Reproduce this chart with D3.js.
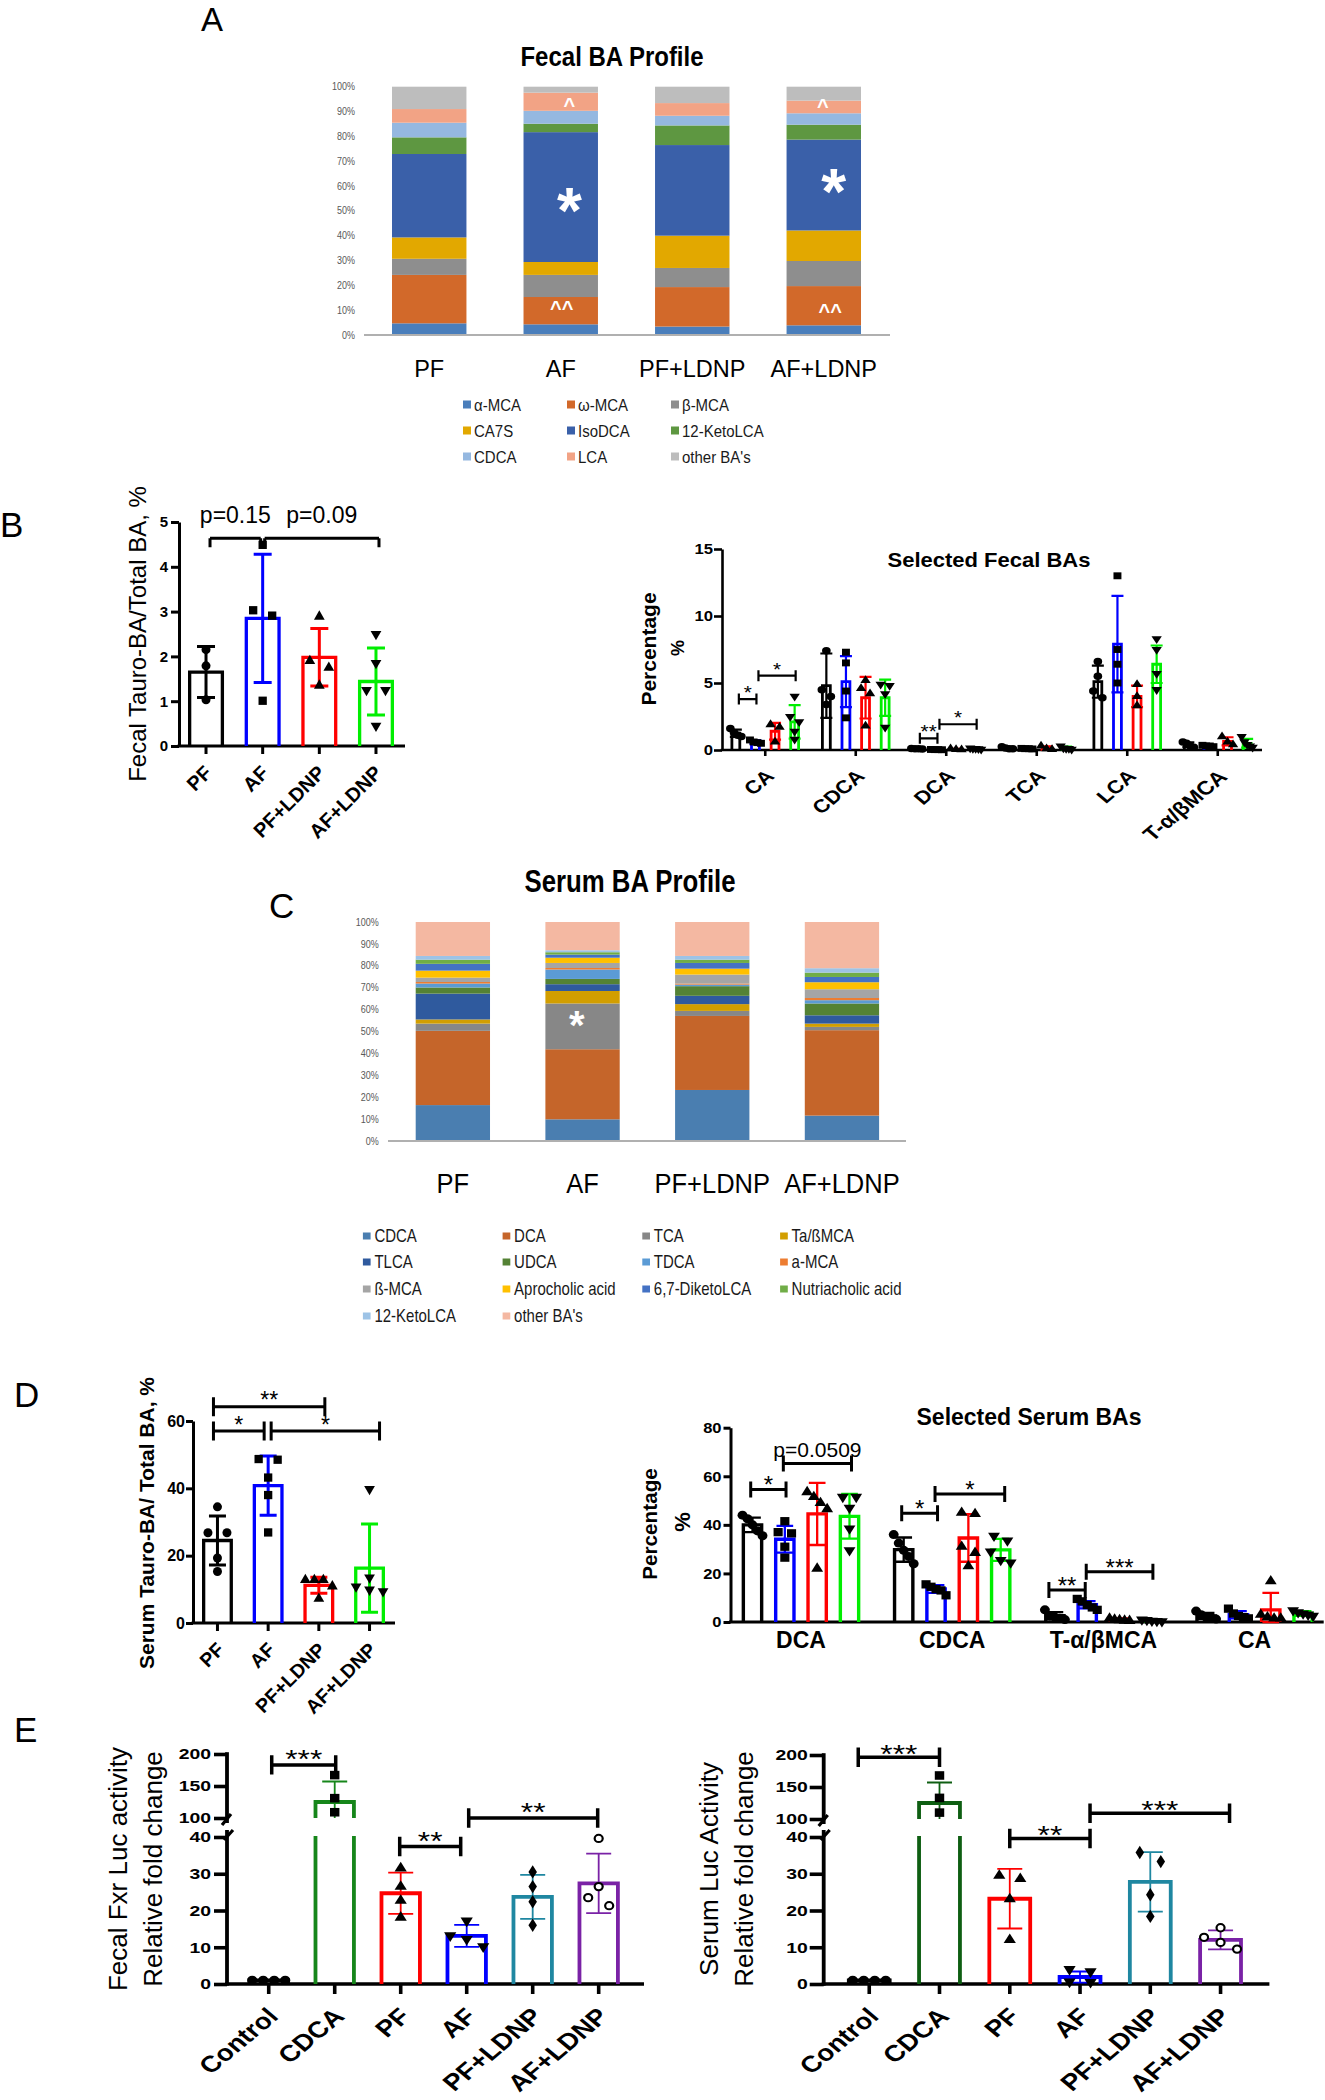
<!DOCTYPE html>
<html><head><meta charset="utf-8">
<script src="https://cdn.jsdelivr.net/npm/d3@7"></script>
<style>body{margin:0;background:#fff}svg{display:block}</style>
</head><body><svg id="fig" width="1325" height="2100"></svg>
<script>
// ================= DATA =================
const groups4 = ['PF','AF','PF+LDNP','AF+LDNP'];
const cats6 = ['Control','CDCA','PF','AF','PF+LDNP','AF+LDNP'];

// Panel A - Fecal BA profile (% of total, bottom -> top)
const fecalBAs = ['α-MCA','ω-MCA','β-MCA','CA7S','IsoDCA','12-KetoLCA','CDCA','LCA',"other BA's"];
const fecalProfilePF  = [4.7, 19.5, 6.5, 8.6, 33.6, 6.7, 5.9, 5.5, 9.0];
const fecalProfileAF  = [4.3, 11.0, 8.9, 5.2, 52.3, 3.4, 5.2, 7.3, 2.4];
const fecalProfilePFL = [3.4, 15.9, 7.7, 13.0, 36.5, 7.9, 3.9, 5.1, 6.6];
const fecalProfileAFL = [3.9, 15.8, 10.1, 12.3, 36.6, 6.0, 4.6, 5.1, 5.6];
const pctTicks = [0,10,20,30,40,50,60,70,80,90,100];

// Panel B left - Fecal Tauro-BA / Total BA
const fecalTauroMean = [1.65, 2.85, 1.98, 1.44];
const fecalTauroSD   = [0.57, 1.43, 0.64, 0.75];
const fecalTauroPts  = [[2.15,1.79,1.03],[4.49,3.03,2.91,1.01],[2.89,1.9,1.75,1.35],[2.5,1.85,1.25,1.25,0.45]];
const fecalTauroTicks = [0,1,2,3,4,5];

// Panel B right - Selected fecal BAs
const fecalSelGroups = ['CA','CDCA','DCA','TCA','LCA','T-α/βMCA'];
const fecalSelMeanPF  = [1.25, 4.8, 0.10, 0.15, 5.1, 0.4];
const fecalSelSdPF    = [0.27, 2.4, 0.02, 0.07, 1.2, 0.18];
const fecalSelPtsPF   = [[1.6,1.3,1.1,1.0],[7.4,4.5,4.0,3.4],[0.12,0.1,0.09,0.08],[0.25,0.15,0.1,0.1],[6.6,5.5,4.4,3.9],[0.6,0.5,0.3,0.2]];
const fecalSelMeanAF  = [0.6, 5.1, 0.03, 0.1, 7.9, 0.3];
const fecalSelSdAF    = [0.12, 1.9, 0.01, 0.02, 3.6, 0.05];
const fecalSelPtsAF   = [[0.75,0.6,0.55,0.5],[7.3,6.5,4.4,2.4],[0.04,0.03,0.03,0.02],[0.12,0.1,0.1,0.08],[13.0,7.5,6.4,5.0],[0.35,0.3,0.3,0.25]];
const fecalSelMeanPFL = [1.4, 3.9, 0.05, 0.15, 4.0, 0.65];
const fecalSelSdPFL   = [0.62, 1.55, 0.03, 0.13, 0.8, 0.3];
const fecalSelPtsPFL  = [[1.9,1.7,0.6],[5.2,4.6,4.2,1.8],[0.1,0.04,0.02],[0.3,0.1,0.05],[4.9,4.0,3.3],[1.0,0.6,0.4]];
const fecalSelMeanAFL = [2.1, 3.9, 0.1, 0.15, 6.4, 0.5];
const fecalSelSdAFL   = [1.25, 1.35, 0.04, 0.1, 1.4, 0.33];
const fecalSelPtsAFL  = [[4.0,2.5,2.1,1.4,0.8],[4.9,4.8,4.2,1.7],[0.15,0.1,0.1,0.08,0.05],[0.3,0.15,0.1,0.1,0.05],[8.3,7.5,5.7,4.5],[1.0,0.6,0.4,0.3,0.2]];
const fecalSelTicks = [0,5,10,15];

// Panel C - Serum BA profile
const serumBAs = ['CDCA','DCA','TCA','Ta/ßMCA','TLCA','UDCA','TDCA','a-MCA','ß-MCA','Aprocholic acid','6,7-DiketoLCA','Nutriacholic acid','12-KetoLCA',"other BA's"];
const serumProfilePF  = [16.4, 33.9, 3.3, 1.9, 11.8, 2.8, 1.8, 0.7, 2.0, 3.2, 3.1, 1.9, 1.7, 15.5];
const serumProfileAF  = [9.9, 32.0, 20.9, 5.7, 3.1, 2.4, 4.3, 0.7, 2.3, 2.4, 1.4, 1.1, 0.9, 12.9];
const serumProfilePFL = [23.3, 33.8, 2.3, 3.1, 3.8, 4.4, 0.7, 0.5, 4.1, 2.7, 2.6, 1.5, 1.7, 15.5];
const serumProfileAFL = [11.6, 39.0, 1.5, 1.5, 3.8, 5.4, 1.5, 1.0, 4.0, 3.2, 2.4, 2.0, 2.0, 21.1];

// Panel D left - Serum Tauro-BA / Total BA
const serumTauroMean = [24.5, 40.8, 11.2, 16.3];
const serumTauroSD   = [7.3, 8.8, 2.4, 13.1];
const serumTauroPts  = [[34.5,26.8,26.8,19.3,15.3],[48.7,48.5,43.2,38.0,26.9],[12.8,12.8,12.8,10.9,7.2],[39.8,13.5,10.8,9.4,9.9]];
const serumTauroTicks = [0,20,40,60];

// Panel D right - Selected serum BAs
const serumSelGroups = ['DCA','CDCA','T-α/βMCA','CA'];
const serumSelMeanPF  = [40.0, 29.8, 2.6, 2.5];
const serumSelSdPF    = [3.0, 5.0, 1.5, 1.2];
const serumSelPtsPF   = [[44,42.5,40,37.5,35.5],[36,32.5,29.5,27,24],[5,2.5,2,1.5,1],[4.5,3,2,1.8,1.2]];
const serumSelMeanAF  = [34.1, 13.6, 7.1, 3.0];
const serumSelSdAF    = [5.5, 1.6, 1.5, 1.5];
const serumSelPtsAF   = [[41.5,37,36.5,31,26.5],[15.5,14.5,13.5,13,11],[9.5,8.5,7,6,5],[5.5,3.5,2.5,2,1.5]];
const serumSelMeanPFL = [44.5, 34.6, 1.0, 5.0];
const serumSelSdPFL   = [12.8, 9.8, 0.5, 7.0];
const serumSelPtsPFL  = [[53.5,51.5,49,46.5,22],[45,44.5,31,28.5,23],[1.5,1,0.8,0.6,0.5],[16.8,3,2,1.5,1.5]];
const serumSelMeanAFL = [43.5, 29.7, 0.6, 3.5];
const serumSelSdAFL   = [9.2, 4.5, 0.3, 1.0];
const serumSelPtsAFL  = [[51.5,51.5,47,38.5,29.5],[35.5,33.5,29,25.5,24.5],[1,0.8,0.5,0.4,0.3],[4.8,4,3.5,3,2.5]];
const serumSelTicks = [0,20,40,60,80];

// Panel E - FXR luciferase activity (relative fold change)
const fxrFecalMean = [1, 125, 24.7, 13.1, 23.7, 27.4];
const fxrFecalSD   = [0.1, 32, 5.6, 3.0, 6.0, 8.1];
const fxrFecalPts  = [[1,1,1,1],[167,131,109,90],[31.5,26.5,22.7,18.1],[17.2,13.2,12.2,10.2],[30.5,26.5,22.4,16],[39.6,26.5,23.5,21.3]];
const fxrSerumMean = [1, 125, 23.2, 1.9, 27.8, 12.0];
const fxrSerumSD   = [0.1, 32, 8.1, 1.5, 8.1, 2.6];
const fxrSerumPts  = [[1,1,1,1],[168,133,110,89],[29.5,28.6,23.1,12],[4.0,3.4,0.6,0.5],[35.8,33.3,24.3,18.4],[15.3,12.7,11.3,9.5]];
const fxrLowTicks = [0,10,20,30,40];
const fxrHighTicks = [100,150,200];

// Significance annotations (value units)
const fecalTauroBrackets = [{from:'PF',to:'AF',y:4.64,label:'p=0.15'},{from:'AF',to:'AF+LDNP',y:4.64,label:'p=0.09'}];
const fecalSelBrackets = [{group:'CA',from:'PF',to:'AF',y:3.8,label:'*'},{group:'CA',from:'AF',to:'AF+LDNP',y:5.55,label:'*'},{group:'DCA',from:'PF',to:'AF',y:0.87,label:'**'},{group:'DCA',from:'AF',to:'AF+LDNP',y:1.92,label:'*'}];
const serumTauroBrackets = [{from:'PF',to:'PF+LDNP',y:64.2,label:'**'},{from:'PF',to:'AF',y:57,label:'*'},{from:'AF',to:'AF+LDNP',y:57,label:'*'}];
const serumSelBrackets = [{group:'DCA',from:'PF',to:'AF',y:54.6,label:'*'},{group:'DCA',from:'AF',to:'AF+LDNP',y:65.3,label:'p=0.0509'},{group:'CDCA',from:'PF',to:'AF',y:44.8,label:'*'},{group:'CDCA',from:'AF',to:'AF+LDNP',y:52.7,label:'*'},{group:'T-α/βMCA',from:'PF',to:'AF',y:13.2,label:'**'},{group:'T-α/βMCA',from:'AF',to:'AF+LDNP',y:20.7,label:'***'}];
const fxrFecalBrackets = [{from:'Control',to:'CDCA',y:183,label:'***'},{from:'PF',to:'AF',y:37.4,label:'**'},{from:'AF',to:'AF+LDNP',y:100,label:'**'}];
const fxrSerumBrackets = [{from:'Control',to:'CDCA',y:196.4,label:'***'},{from:'PF',to:'AF',y:39.6,label:'**'},{from:'AF',to:'AF+LDNP',y:108.9,label:'***'}];

// ================= STYLE =================
const FONT = '"Liberation Sans", Arial, Helvetica, sans-serif';
const fecalBAColors = ['#4a7ebb','#d2692a','#8e8e8e','#e2a800','#3a60a9','#5e9741','#95b8e0','#f2a385','#bdbdbd'];
const serumBAColors = ['#4a7eb0','#c5652a','#878787','#d29e00','#2f5a9e','#548235','#5b9bd5','#ed7d31','#a5a5a5','#ffc000','#4472c4','#70ad47','#9dc3e6','#f4b8a2'];
const grpColors = ['#000000','#0000ff','#ff0000','#00ee00'];
const grpShapes = ['circle','square','triUp','triDown'];
const eColorsL = ['#000000','#16861a','#ff0000','#0000ff','#1f87a1','#7a22a6'];
const eColorsR = ['#000000','#0e5e12','#ff0000','#0000ff','#1f87a1','#7a22a6'];
const eShapes = ['circle','square','triUp','triDown','diamond','openCircle'];

// ================= HELPERS =================
const svg = d3.select('#fig');
svg.append('rect').attr('width',1325).attr('height',2100).attr('fill','#fff');

function txt(g, x, y, s, o={}) {
  let tr = `translate(${x},${y})`;
  if (o.pre) tr += ` scale(${o.pre[0]},${o.pre[1]})`;
  if (o.rot) tr += ` rotate(${o.rot})`;
  if (o.sx || o.sy) tr += ` scale(${o.sx||1},${o.sy||1})`;
  return g.append('text').attr('transform', tr)
    .attr('font-family', FONT).attr('font-size', o.size||14).attr('font-weight', o.weight||'normal')
    .attr('text-anchor', o.anchor||'start').attr('fill', o.fill||'#000').text(s);
}
function marker(g, shape, x, y, w, sx) {
  let type=d3.symbolCircle, area=Math.PI*w*w/4, rot=0, fill='#000', stroke='none', sw=0;
  if (shape==='openCircle') { area=Math.PI*(w-2)*(w-2)/4; fill='#fff'; stroke='#000'; sw=2; }
  else if (shape==='square') { type=d3.symbolSquare; area=w*w*0.85; }
  else if (shape==='triUp') { type=d3.symbolTriangle; area=w*w*0.62; }
  else if (shape==='triDown') { type=d3.symbolTriangle; area=w*w*0.62; rot=180; }
  else if (shape==='diamond') { type=d3.symbolDiamond; area=w*w*0.6; }
  g.append('path').attr('d', d3.symbol(type, area)()).attr('transform', `translate(${x},${y}) scale(${sx||1},1) rotate(${rot})`)
    .attr('fill', fill).attr('stroke', stroke).attr('stroke-width', sw);
}
// horizontal spread of overlapping points (deterministic)
function swarm(vals, yf, mW, pair, maxW) {
  const idx = vals.map((v,i)=>i).filter(i=>yf(vals[i])!==null).sort((a,b)=>vals[b]-vals[a]);
  const off = vals.map(()=>0);
  const clusters=[]; let cur=[];
  idx.forEach(i=>{ if (cur.length && Math.abs(yf(vals[i]) - yf(vals[cur[cur.length-1]])) >= mW) { clusters.push(cur); cur=[]; } cur.push(i); });
  if (cur.length) clusters.push(cur);
  clusters.forEach(c=>{ const k=c.length; if (k<2) return; const d=Math.min(pair, maxW/(k-1)); c.forEach((i,j)=>off[i]=(j-(k-1)/2)*d); });
  return off;
}
function gpBar(g, o) {
  const yf=o.y, half=(o.w-o.barSW)/2, x0=o.cx-half, x1=o.cx+half, yb=yf(0);
  const bar = g.append('path').attr('fill','none').attr('stroke',o.color).attr('stroke-width',o.barSW).attr('stroke-linejoin','miter');
  if (o.brk && o.mean > o.brk[1]) {
    const yl = yf(o.brk[0]) - 1, yu = yf(o.brk[1]), ym = yf(o.mean);
    bar.attr('d', `M${x0},${yb}V${yl}M${x1},${yb}V${yl}M${x0},${yu}V${ym}H${x1}V${yu}`);
  } else {
    bar.attr('d', `M${x0},${yb}V${yf(o.mean)}H${x1}V${yb}`);
  }
  const hi=o.mean+o.sd, lo=Math.max(0,o.mean-o.sd);
  let yHi=yf(hi), yLo=yf(lo), lowCap=true;
  if (yLo===null) { yLo=yf(o.brk[1]); lowCap=false; }
  const cw=o.capW/2;
  let d=`M${o.cx},${yHi}V${yLo}M${o.cx-cw},${yHi}H${o.cx+cw}`;
  if (lowCap) d+=`M${o.cx-cw},${yLo}H${o.cx+cw}`;
  g.append('path').attr('d',d).attr('fill','none').attr('stroke',o.errColor||o.color).attr('stroke-width',o.errSW);
  const off = swarm(o.pts, yf, o.mW, o.pair, o.maxW);
  o.pts.forEach((v,i)=>{ const yy=yf(v); if (yy===null) return; marker(g, o.shape, o.cx+off[i], yy, o.mW, o.mSx); });
}
function bracket(g, x1, x2, y, o) {
  const up=o.capUp, dn=o.capDown;
  g.append('path').attr('d',`M${x1},${y-up}V${y+dn}M${x1},${y}H${x2}M${x2},${y-up}V${y+dn}`)
    .attr('fill','none').attr('stroke','#000').attr('stroke-width',o.sw);
  const mx=(x1+x2)/2;
  if (/^\*+$/.test(o.label)) txt(g, mx, y - o.dy + 0.5*o.size, o.label, {size:o.size, anchor:'middle', sx:o.ssx||1});
  else txt(g, mx, y - o.pdy, o.label, {size:o.psize, anchor:'middle'});
}
function styleAxis(sel, sw, fs, sx) {
  sel.attr('font-family', FONT).attr('font-size', fs).attr('font-weight','bold');
  sel.select('.domain').attr('stroke-width', sw).attr('stroke','#000');
  sel.selectAll('.tick line').attr('stroke-width', sw).attr('stroke','#000');
  sel.selectAll('.tick text').attr('fill','#000').each(function(){
    if (!sx) return; const t=d3.select(this); const x=+t.attr('x');
    t.attr('transform', `translate(${x},0) scale(${sx},1) translate(${-x},0)`);
  });
}
function rotLabel(g, tx, ty, s, size, sx) {
  sx = sx||1; const c = 0.72*size;
  txt(g, tx + 0.707*c*sx, ty + 0.707*c, s, {size, weight:'bold', anchor:'end', rot:-45, pre:[sx,1]});
}
function hline(g, x1, x2, y, sw, color) {
  g.append('line').attr('x1',x1).attr('x2',x2).attr('y1',y).attr('y2',y).attr('stroke',color||'#000').attr('stroke-width',sw);
}
function vline(g, x, y1, y2, sw, color) {
  g.append('line').attr('x1',x).attr('x2',x).attr('y1',y1).attr('y2',y2).attr('stroke',color||'#000').attr('stroke-width',sw);
}
const intFmt = d3.format('d');

// ================= PANEL LETTERS =================
txt(svg, 201, 31, 'A', {size:33});
txt(svg, 0, 537, 'B', {size:35});
txt(svg, 269, 918, 'C', {size:35});
txt(svg, 14, 1407, 'D', {size:35});
txt(svg, 14, 1742, 'E', {size:35});

// ================= PANEL A =================
(function(){
  const g = svg.append('g');
  const arrs = [fecalProfilePF, fecalProfileAF, fecalProfilePFL, fecalProfileAFL];
  const rows = groups4.map((grp,i)=>{ const r={group:grp}; fecalBAs.forEach((k,j)=>r[k]=arrs[i][j]); return r; });
  const stack = d3.stack().keys(fecalBAs)(rows);
  const y = d3.scaleLinear().domain([0,100]).range([335,86.7]);
  const x = d3.scaleBand().domain(groups4).range([392,861]).paddingInner(0.434);
  const cx = grp=>x(grp)+x.bandwidth()/2;
  stack.forEach((layer,j)=>{
    g.selectAll(null).data(layer).enter().append('rect')
      .attr('x', d=>x(d.data.group)).attr('width', x.bandwidth())
      .attr('y', d=>y(d[1])).attr('height', d=>y(d[0])-y(d[1])).attr('fill', fecalBAColors[j]);
  });
  hline(g, 364, 890, 335, 2, '#b0b0b0');
  pctTicks.forEach(t=>txt(g, 355, y(t)+3.6, t+'%', {size:9, anchor:'end', fill:'#595959', sy:1.15}));
  txt(g, 612, 66, 'Fecal BA Profile', {size:24, weight:'bold', anchor:'middle', sy:1.12});
  groups4.forEach(grp=>txt(g, cx(grp), 377, grp, {size:23.5, anchor:'middle', sy:1.05}));
  const mid = (grp,k)=>{ const L=stack[fecalBAs.indexOf(k)].find(d=>d.data.group===grp); return y((L[0]+L[1])/2); };
  const ann = [
    {grp:'AF', seg:'IsoDCA', s:'*', dx:8.7, dy:3.6, size:64},
    {grp:'AF+LDNP', seg:'IsoDCA', s:'*', dx:10, dy:-3.3, size:64},
    {grp:'AF', seg:'LCA', s:'^', dx:8.7, dy:0, size:20},
    {grp:'AF+LDNP', seg:'LCA', s:'^', dx:-1, dy:-4.4, size:20},
    {grp:'AF', seg:'ω-MCA', s:'^^', dx:1, dy:-5.7, size:20},
    {grp:'AF+LDNP', seg:'ω-MCA', s:'^^', dx:6.5, dy:1.3, size:20}
  ];
  ann.forEach(a=>txt(g, cx(a.grp)+a.dx, mid(a.grp,a.seg)+a.dy+(a.s==='*'?0.5*a.size:10.5), a.s, {size:a.size, weight:'bold', anchor:'middle', fill:'#fff'}));
  const lx=[474,578,682], ly=[411,437,463];
  fecalBAs.forEach((k,i)=>{
    const cxl=lx[i%3], cyl=ly[Math.floor(i/3)];
    g.append('rect').attr('x',cxl-11).attr('y',cyl-10.5).attr('width',8).attr('height',8).attr('fill',fecalBAColors[i]);
    txt(g, cxl, cyl, k, {size:15, fill:'#1a1a1a', sy:1.08});
  });
})();

// ================= PANEL B left =================
(function(){
  const g = svg.append('g');
  const y = d3.scaleLinear().domain([0,5]).range([746,522]);
  const x = d3.scaleBand().domain(groups4).range([188,394]).paddingInner(0.364);
  const cx = k=>x(k)+x.bandwidth()/2;
  g.append('g').attr('transform','translate(179,0)')
    .call(d3.axisLeft(y).tickValues(fecalTauroTicks).tickFormat(intFmt).tickSize(8).tickSizeOuter(0).tickPadding(3)).call(styleAxis,3,15);
  hline(g, 177.5, 405, 746, 3);
  groups4.forEach((k,i)=>{
    vline(g, cx(k), 746, 754, 3);
    gpBar(g, {cx:cx(k), w:x.bandwidth(), y, mean:fecalTauroMean[i], sd:fecalTauroSD[i], pts:fecalTauroPts[i],
      color:grpColors[i], shape:grpShapes[i], barSW:3.3, errSW:3, capW:18, mW:9, pair:19, maxW:28});
    rotLabel(g, cx(k)-3, 746+18, k, 20);
  });
  fecalTauroBrackets.forEach(b=>{
    bracket(g, cx(b.from)+(b.from==='AF'?2:4), cx(b.to)-(b.to==='AF'?2:-3), y(b.y), {capUp:0, capDown:9, sw:3, label:b.label, psize:23, pdy:15});
  });
  txt(g, 146, 634, 'Fecal Tauro-BA/Total BA, %', {size:24, anchor:'middle', rot:-90});
})();

// ================= PANEL B right =================
(function(){
  const g = svg.append('g');
  const y = d3.scaleLinear().domain([0,15]).range([750,549]);
  const xg = d3.scaleBand().domain(fecalSelGroups).range([720,1263]);
  const xi = d3.scalePoint().domain(groups4).range([-29.4,29.4]);
  const gc = k=>xg(k)+xg.bandwidth()/2;
  const means=[fecalSelMeanPF,fecalSelMeanAF,fecalSelMeanPFL,fecalSelMeanAFL];
  const sds=[fecalSelSdPF,fecalSelSdAF,fecalSelSdPFL,fecalSelSdAFL];
  const pts=[fecalSelPtsPF,fecalSelPtsAF,fecalSelPtsPFL,fecalSelPtsAFL];
  g.append('g').attr('transform','translate(722,0)')
    .call(d3.axisLeft(y).tickValues(fecalSelTicks).tickFormat(intFmt).tickSize(8).tickSizeOuter(0).tickPadding(1)).call(styleAxis,2.6,14.5,1.15);
  hline(g, 720.7, 1262, 750, 2.6);
  fecalSelGroups.forEach((grp,j)=>{
    vline(g, gc(grp), 750, 756, 2.6);
    groups4.forEach((k,i)=>{
      gpBar(g, {cx:gc(grp)+xi(k), w:10.7, y, mean:means[i][j], sd:sds[i][j], pts:pts[i][j],
        color:grpColors[i], shape:grpShapes[i], barSW:2.8, errSW:2.2, capW:12, mW:7.5, mSx:1.15, pair:9, maxW:11});
    });
    rotLabel(g, gc(grp)-1, 750+18, grp, grp.length>6 ? 19.5 : 18.5, 1.18);
  });
  fecalSelBrackets.forEach(b=>{
    bracket(g, gc(b.group)+xi(b.from)+3, gc(b.group)+xi(b.to)+1, y(b.y), {capUp:5.5, capDown:5.5, sw:2.2, label:b.label, size:18, dy:9, ssx:1.15});
  });
  txt(g, 989, 567, 'Selected Fecal BAs', {size:20, weight:'bold', anchor:'middle', sx:1.1});
  txt(g, 656, 649, 'Percentage', {size:21, weight:'bold', anchor:'middle', rot:-90});
  txt(g, 684, 648, '%', {size:18, weight:'bold', anchor:'middle', rot:-90});
})();

// ================= PANEL C =================
(function(){
  const g = svg.append('g');
  const arrs = [serumProfilePF, serumProfileAF, serumProfilePFL, serumProfileAFL];
  const rows = groups4.map((grp,i)=>{ const r={group:grp}; serumBAs.forEach((k,j)=>r[k]=arrs[i][j]); return r; });
  const stack = d3.stack().keys(serumBAs)(rows);
  const y = d3.scaleLinear().domain([0,100]).range([1141,922]);
  const x = d3.scaleBand().domain(groups4).range([415.7,879.1]).paddingInner(0.427);
  const cx = grp=>x(grp)+x.bandwidth()/2;
  stack.forEach((layer,j)=>{
    g.selectAll(null).data(layer).enter().append('rect')
      .attr('x', d=>x(d.data.group)).attr('width', x.bandwidth())
      .attr('y', d=>y(d[1])).attr('height', d=>y(d[0])-y(d[1])).attr('fill', serumBAColors[j]);
  });
  hline(g, 388, 906, 1141, 2, '#b0b0b0');
  pctTicks.forEach(t=>txt(g, 378.7, y(t)+3.6, t+'%', {size:9, anchor:'end', fill:'#595959', sy:1.13}));
  txt(g, 630, 892, 'Serum BA Profile', {size:25.8, weight:'bold', anchor:'middle', sy:1.18});
  groups4.forEach(grp=>txt(g, cx(grp), 1193, grp, {size:25.5, anchor:'middle', sy:1.08}));
  const L = stack[serumBAs.indexOf('TCA')].find(d=>d.data.group==='AF');
  txt(g, cx('AF')-5.7, y((L[0]+L[1])/2) - 7.4 + 20, '*', {size:40, weight:'bold', anchor:'middle', fill:'#fff'});
  const lx=[374.4,514.1,653.8,791.6], ly=[1242,1268,1295,1322];
  serumBAs.forEach((k,i)=>{
    const cxl=lx[i%4], cyl=ly[Math.floor(i/4)];
    g.append('rect').attr('x',cxl-11.5).attr('y',cyl-9.5).attr('width',7.7).attr('height',7).attr('fill',serumBAColors[i]);
    txt(g, cxl, cyl, k, {size:15, fill:'#1a1a1a', sy:1.2});
  });
})();

// ================= PANEL D left =================
(function(){
  const g = svg.append('g');
  const y = d3.scaleLinear().domain([0,60]).range([1623,1421]);
  const x = d3.scaleBand().domain(groups4).range([202,385]).paddingInner(0.39);
  const cx = k=>x(k)+x.bandwidth()/2;
  g.append('g').attr('transform','translate(193,0)')
    .call(d3.axisLeft(y).tickValues(serumTauroTicks).tickFormat(intFmt).tickSize(7).tickSizeOuter(0).tickPadding(1)).call(styleAxis,3,16);
  hline(g, 191.5, 395, 1623, 3);
  groups4.forEach((k,i)=>{
    vline(g, cx(k), 1623, 1631, 3);
    gpBar(g, {cx:cx(k), w:x.bandwidth(), y, mean:serumTauroMean[i], sd:serumTauroSD[i], pts:serumTauroPts[i],
      color:grpColors[i], shape:grpShapes[i], barSW:3.3, errSW:3, capW:17, mW:9, pair:19, maxW:27});
    rotLabel(g, cx(k)-2, 1623+18, k, 19.5);
  });
  serumTauroBrackets.forEach(b=>{
    bracket(g, cx(b.from)+(b.from==='AF'?3:-4), cx(b.to)+(b.to==='AF'?-4:(b.to==='AF+LDNP'?10:6)), y(b.y), {capUp:9.5, capDown:9.5, sw:3, label:b.label, size:23, dy:10});
  });
  txt(g, 154, 1523, 'Serum Tauro-BA/ Total BA, %', {size:21, weight:'bold', anchor:'middle', rot:-90});
})();

// ================= PANEL D right =================
(function(){
  const g = svg.append('g');
  const y = d3.scaleLinear().domain([0,80]).range([1622,1427.7]);
  const xg = d3.scaleBand().domain(serumSelGroups).range([725.4,1330.2]);
  const xi = d3.scalePoint().domain(groups4).range([-48.5,48.5]);
  const gc = k=>xg(k)+xg.bandwidth()/2;
  const means=[serumSelMeanPF,serumSelMeanAF,serumSelMeanPFL,serumSelMeanAFL];
  const sds=[serumSelSdPF,serumSelSdAF,serumSelSdPFL,serumSelSdAFL];
  const pts=[serumSelPtsPF,serumSelPtsAF,serumSelPtsPFL,serumSelPtsAFL];
  g.append('g').attr('transform','translate(730.5,0)')
    .call(d3.axisLeft(y).tickValues(serumSelTicks).tickFormat(intFmt).tickSize(7).tickSizeOuter(0).tickPadding(2)).call(styleAxis,3,15,1.1);
  hline(g, 729, 1323.7, 1622, 3);
  serumSelGroups.forEach((grp,j)=>{
    groups4.forEach((k,i)=>{
      gpBar(g, {cx:gc(grp)+xi(k), w:21.7, y, mean:means[i][j], sd:sds[i][j], pts:pts[i][j],
        color:grpColors[i], shape:grpShapes[i], barSW:3.4, errSW:2.3, capW:16.7, mW:9, mSx:1.1, pair:13.4, maxW:20});
    });
    txt(g, gc(grp), 1648, grp, {size:23, weight:'bold', anchor:'middle'});
  });
  const nudge = [[-1.8,1.2],[-1.5,2],[-2,1.5],[-1,4],[-6,-2],[-1,1]];
  serumSelBrackets.forEach((b,k)=>{
    bracket(g, gc(b.group)+xi(b.from)+nudge[k][0], gc(b.group)+xi(b.to)+nudge[k][1], y(b.y), {capUp:8, capDown:8, sw:3, label:b.label, size:24, dy:8, psize:21, pdy:6.6});
  });
  txt(g, 1029, 1425, 'Selected Serum BAs', {size:23, weight:'bold', anchor:'middle'});
  txt(g, 656.5, 1524, 'Percentage', {size:20.7, weight:'bold', anchor:'middle', rot:-90});
  txt(g, 690, 1522, '%', {size:22, weight:'bold', anchor:'middle', rot:-90});
})();

// ================= PANEL E =================
function panelE(o) {
  const g = svg.append('g');
  const yLow = d3.scaleLinear().domain([0,40]).range([1984,1837]);
  const yUp = d3.scaleLinear().domain([100,200]).range([o.up100,o.up100-64]);
  const yf = v => v<=40 ? yLow(v) : (v>=100 ? yUp(v) : null);
  const x = d3.scaleBand().domain(cats6).range(o.xr).paddingInner(o.pad);
  const cx = k=>x(k)+x.bandwidth()/2;
  const ax = o.ax;
  const a1 = g.append('g').attr('transform',`translate(${ax},0)`)
    .call(d3.axisLeft(yLow).tickValues(fxrLowTicks).tickFormat(intFmt).tickSize(o.ts).tickSizeOuter(0).tickPadding(o.tp)).call(styleAxis,3.6,15.5,1.25);
  a1.select('.domain').remove();
  const a2 = g.append('g').attr('transform',`translate(${ax},0)`)
    .call(d3.axisLeft(yUp).tickValues(fxrHighTicks).tickFormat(intFmt).tickSize(o.ts).tickSizeOuter(0).tickPadding(o.tp)).call(styleAxis,3.6,15.5,1.25);
  a2.select('.domain').remove();
  vline(g, ax, 1985.7, yLow(40)-7, 3.8);
  vline(g, ax, yUp(200)-1.8, yUp(100)+5, 3.8);
  g.append('path').attr('d',`M${ax-5},${yUp(100)+7}L${ax+4},${yUp(100)-4}M${ax-3},${yLow(40)+3}L${ax+6},${yLow(40)-7}`)
    .attr('stroke','#000').attr('stroke-width',3.2).attr('fill','none');
  hline(g, ax-1.9, o.xEnd, 1984, 3.4);
  cats6.forEach((k,i)=>{
    vline(g, cx(k), 1984, 1994, 3.6);
    gpBar(g, {cx:cx(k), w:x.bandwidth(), y:yf, brk:[40,100], mean:o.mean[i], sd:o.sd[i], pts:o.pts[i],
      color:o.colors[i], shape:eShapes[i], barSW:3.8, errSW:1.8, capW:25, mW:9.3, mSx:1.1, pair:21, maxW:33});
    rotLabel(g, cx(k)-3, 1984+22, k, 23, 1.2);
  });
  o.brackets.forEach((b,k)=>{
    bracket(g, cx(b.from)+o.nudge[k][0], cx(b.to)+o.nudge[k][1], yf(b.y), {capUp:9.7, capDown:9.7, sw:3.5, label:b.label, size:26, dy:o.sdy, ssx:1.22});
  });
  txt(g, o.lab1x, 1869, o.lab1, {size:26, anchor:'middle', rot:-90});
  txt(g, o.lab2x, 1869, 'Relative fold change', {size:26, anchor:'middle', rot:-90});
}
panelE({up100:1818, xr:[247.6,619.8], pad:0.36, ax:227, xEnd:644, ts:13, tp:3, mean:fxrFecalMean, sd:fxrFecalSD, pts:fxrFecalPts,
  colors:eColorsL, brackets:fxrFecalBrackets, nudge:[[3,1],[-1,-6],[2,-1]], sdy:10, lab1:'Fecal Fxr Luc activity', lab1x:126.5, lab2x:161.5});
panelE({up100:1819, xr:[846.9,1242.9], pad:0.364, ax:823.7, xEnd:1269.4, ts:14, tp:2, mean:fxrSerumMean, sd:fxrSerumSD, pts:fxrSerumPts,
  colors:eColorsR, brackets:fxrSerumBrackets, nudge:[[-11,0],[0,10],[10,9]], sdy:7, lab1:'Serum Luc Activity', lab1x:717.6, lab2x:753.3});
</script></body></html>
